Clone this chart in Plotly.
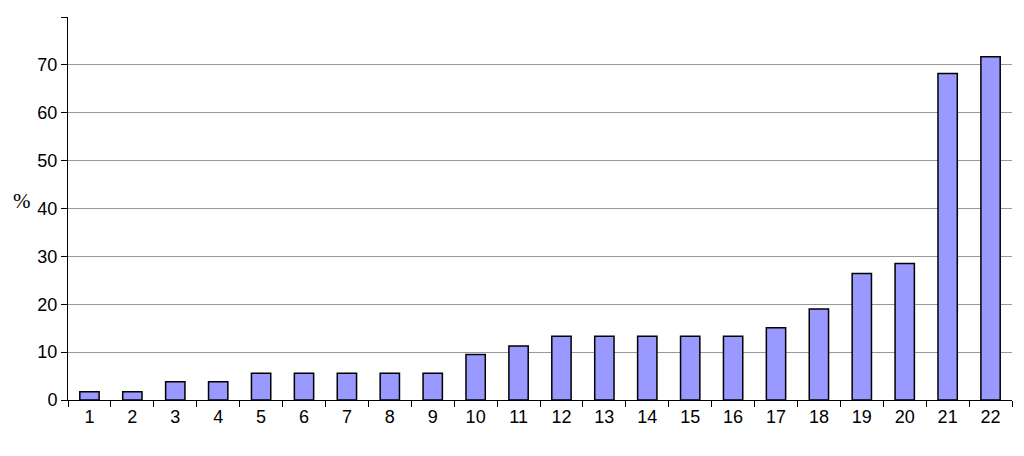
import plotly.graph_objects as go

categories = [str(i) for i in range(1, 23)]
values = [1.7, 1.7, 3.8, 3.8, 5.6, 5.6, 5.6, 5.6, 5.6, 9.5, 11.3, 13.3, 13.3, 13.3,
          13.3, 13.3, 15.1, 19.0, 26.4, 28.5, 68.2, 71.7]

fig = go.Figure(go.Bar(x=categories, y=values, width=0.45,
                       marker=dict(color="#9999FF", line=dict(color="black", width=1.5))))
fig.update_layout(
    width=1024, height=456, margin=dict(l=60, r=20, t=9, b=64),
    plot_bgcolor="white", paper_bgcolor="white", showlegend=False,
    font=dict(family="Liberation Sans", size=18, color="black"),
)
fig.update_xaxes(type="category", showline=True, linecolor="black", linewidth=1,
                 ticks="outside", tickson="boundaries", ticklen=6, tickcolor="black")
fig.update_yaxes(range=[0, 80], dtick=10, showgrid=True, gridcolor="#999999", gridwidth=1,
                 showline=True, linecolor="black", linewidth=1, ticks="outside",
                 ticklen=6, tickcolor="black", zeroline=False)
fig.add_annotation(text="%", xref="paper", yref="paper", x=-0.06, y=0.52,
                   showarrow=False, font=dict(family="Liberation Serif", size=21))
fig.write_html("out.html")
